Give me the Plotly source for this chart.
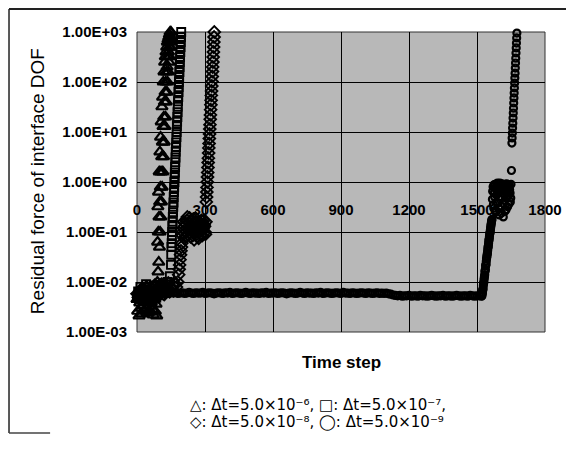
import plotly.graph_objects as go

# ---------------- data ----------------
# Δt = 5.0e-6  (triangles)
tri_x = [0, 3, 6, 9, 12, 15, 18, 21, 24, 27, 30, 33, 36, 39, 42, 45, 48, 51, 54, 57,
         60, 63, 66, 69, 72, 75, 78, 81, 84, 87,
         90, 91, 92, 93, 94, 95, 96, 97, 98, 99, 100, 101, 102, 103, 104, 105, 106, 107, 108, 109,
         110, 111, 112, 113, 114, 115, 116, 117, 118, 119, 120, 121, 122, 123, 124, 125, 126, 127, 128, 129,
         130, 131, 132, 133, 134, 135, 136, 137, 138, 139, 140, 141, 142, 143, 144, 145, 146, 147, 148, 149, 150]
tri_y = [4.5e-3, 2.6e-3, 5.5e-3, 2.1e-3, 3.8e-3, 6.2e-3, 3.0e-3, 2.3e-3, 4.8e-3, 3.4e-3,
         6.8e-3, 2.7e-3, 4.1e-3, 5.6e-3, 2.9e-3, 2.4e-3, 4.6e-3, 7.0e-3, 3.3e-3, 2.5e-3,
         5.0e-3, 3.9e-3, 6.0e-3, 2.8e-3, 2.2e-3, 4.4e-3, 5.4e-3, 2.6e-3, 3.6e-3, 2.1e-3,
         1.0e-2, 6.3e-2, 0.32, 1.6e-2, 0.10, 0.63, 2.5e-2, 0.20, 1.6, 5.0e-2,
         0.40, 4.0, 0.10, 0.79, 7.9, 0.20, 1.6, 16, 0.40, 3.2,
         32, 0.79, 6.3, 50, 1.6, 13, 100, 3.2, 20, 160,
         6.3, 40, 250, 13, 63, 320, 20, 100, 400, 40,
         160, 500, 63, 200, 630, 100, 320, 710, 160, 400,
         790, 250, 500, 890, 320, 630, 1000, 500, 790, 710, 1000]

# Δt = 5.0e-7  (squares)
sq_x = [0, 5, 10, 15, 20, 25, 30, 35, 40, 45, 50, 55, 60, 65, 70, 75, 80, 85, 90, 95,
        100, 105, 110, 115, 120, 125, 130, 135, 140, 145,
        150, 151, 152, 153, 154, 155, 156, 157, 158, 159, 160, 161, 162, 163, 164, 165, 166, 167, 168, 169,
        170, 171, 172, 173, 174, 175, 176, 177, 178, 179, 180, 181, 182, 183, 184, 185, 186, 187, 188, 189,
        190, 191, 192, 193, 194, 195]
sq_y = [5.0e-3, 6.5e-3, 4.6e-3, 8.0e-3, 5.5e-3, 4.2e-3, 7.2e-3, 5.8e-3, 9.0e-3, 4.8e-3,
        6.2e-3, 7.8e-3, 5.2e-3, 4.4e-3, 6.8e-3, 8.5e-3, 5.6e-3, 4.9e-3, 7.4e-3, 6.0e-3,
        8.8e-3, 5.4e-3, 6.6e-3, 9.5e-3, 7.0e-3, 6.0e-3, 8.2e-3, 1.0e-2, 7.6e-3, 1.3e-2,
        2.2e-2, 3.5e-2, 5.0e-2, 6.0e-2, 8.3e-2, 0.10, 0.13, 0.16, 0.20, 0.25,
        0.32, 0.39, 0.50, 0.63, 0.78, 1.0, 1.26, 1.55, 2.0, 2.5,
        3.1, 4.0, 5.0, 6.2, 7.9, 10, 13, 16, 20, 25,
        32, 41, 50, 63, 79, 100, 126, 158, 200, 251,
        316, 398, 501, 631, 794, 1000]

# Δt = 5.0e-8  (diamonds)
dia_x = [0, 6, 12, 18, 24, 30, 36, 42, 48, 54, 60, 66, 72, 78, 84, 90, 96, 102, 108, 114,
         120, 126, 132, 138, 144, 150, 156, 162, 168, 174, 180,
         184, 186, 188, 190, 192, 194, 196, 198,
         200, 202, 204, 206, 208, 210, 212, 214, 216, 218,
         220, 222, 224, 226, 228, 230, 232, 234, 236, 238,
         240, 242, 244, 246, 248, 250, 252, 254, 256, 258,
         260, 262, 264, 266, 268, 270, 272, 274, 276, 278,
         280, 282, 284, 286, 288, 290, 292, 294, 296, 298,
         300, 302, 304,
         306, 307, 308, 309, 310, 311, 312, 313, 314, 315, 316, 317, 318, 319, 320, 321, 322, 323,
         324, 325, 326, 327, 328, 329, 330, 331, 332, 333, 334, 335, 336, 337, 338, 339, 340, 341]
dia_y = [5.8e-3, 4.9e-3, 6.6e-3, 5.2e-3, 7.5e-3, 4.6e-3, 6.0e-3, 8.0e-3, 5.5e-3, 6.8e-3,
         4.8e-3, 7.2e-3, 5.9e-3, 8.6e-3, 6.3e-3, 5.1e-3, 7.8e-3, 6.1e-3, 9.0e-3, 6.9e-3,
         5.6e-3, 8.3e-3, 7.0e-3, 9.6e-3, 6.4e-3, 7.6e-3, 8.8e-3, 6.7e-3, 9.2e-3, 7.9e-3, 1.0e-2,
         1.4e-2, 1.8e-2, 2.2e-2, 2.8e-2, 3.5e-2, 4.2e-2, 5.0e-2, 6.0e-2,
         0.085, 0.10, 0.12, 0.16, 0.075, 0.13, 0.15, 0.08, 0.10, 0.14,
         0.17, 0.20, 0.09, 0.11, 0.13, 0.155, 0.19, 0.095, 0.08, 0.17,
         0.14, 0.13, 0.11, 0.085, 0.18, 0.15, 0.07, 0.105, 0.12, 0.19,
         0.16, 0.12, 0.09, 0.08, 0.13, 0.16, 0.075, 0.10, 0.15, 0.13,
         0.11, 0.09, 0.17, 0.14, 0.085, 0.11, 0.12, 0.17, 0.14, 0.13,
         0.10, 0.09, 0.16,
         0.40, 0.50, 0.63, 0.78, 1.0, 1.26, 1.55, 1.95, 2.45, 3.0, 3.8, 4.8, 5.9, 7.4, 9.1, 11.5,
         14, 18, 22, 28, 35, 43, 54, 66, 83, 102, 129, 162, 200, 251, 316, 398, 501, 631, 794, 1000]

# Δt = 5.0e-9  (circles)
cir_x = [0, 5, 10, 15, 20, 25, 30, 35, 40, 45, 50, 55, 60, 65, 70, 75, 80, 85, 90, 95,
         100, 110, 120, 130, 140, 150, 160, 170, 180, 190,
         200, 210, 220, 230, 240, 250, 260, 270, 280, 290,
         300, 310, 320, 330, 340, 350, 360, 370, 380, 390,
         400, 410, 420, 430, 440, 450, 460, 470, 480, 490,
         500, 510, 520, 530, 540, 550, 560, 570, 580, 590,
         600, 610, 620, 630, 640, 650, 660, 670, 680, 690,
         700, 710, 720, 730, 740, 750, 760, 770, 780, 790,
         800, 810, 820, 830, 840, 850, 860, 870, 880, 890,
         900, 910, 920, 930, 940, 950, 960, 970, 980, 990,
         1000, 1010, 1020, 1030, 1040, 1050, 1060, 1070, 1080, 1090,
         1100, 1110, 1120, 1130, 1140, 1150, 1160, 1170, 1180, 1190,
         1200, 1210, 1220, 1230, 1240, 1250, 1260, 1270, 1280, 1290,
         1300, 1310, 1320, 1330, 1340, 1350, 1360, 1370, 1380, 1390,
         1400, 1410, 1420, 1430, 1440, 1450, 1460, 1470, 1480, 1490,
         1500, 1510, 1520,
         1522, 1523, 1524, 1525, 1526, 1527, 1528, 1529, 1530, 1531, 1532, 1533, 1534, 1535, 1536,
         1537, 1538, 1539, 1540, 1541, 1542, 1543, 1544, 1545, 1546, 1547, 1548, 1549, 1550, 1551,
         1552, 1553, 1554, 1555, 1556, 1557, 1558, 1559, 1560, 1561, 1562, 1563, 1564, 1565, 1566,
         1568, 1569, 1571, 1572, 1574, 1575, 1577, 1578, 1580, 1581, 1583, 1584, 1586, 1587,
         1589, 1590, 1592, 1593, 1595, 1596, 1598, 1599, 1601, 1602, 1604, 1605, 1607, 1608,
         1610, 1611, 1613, 1614, 1616, 1617, 1619, 1620, 1622, 1623, 1625, 1626, 1628, 1629,
         1631, 1632, 1634, 1635, 1637, 1638, 1640, 1641, 1643, 1644, 1646, 1647, 1649, 1650,
         1652,
         1654, 1655, 1656, 1657, 1658, 1659, 1660, 1661, 1662, 1663, 1664, 1665, 1666, 1667,
         1668, 1669, 1670, 1671, 1672, 1673, 1674, 1675, 1676]
cir_y = [5.2e-3, 6.0e-3, 4.7e-3, 5.6e-3, 6.4e-3, 5.0e-3, 5.8e-3, 4.5e-3, 6.2e-3, 5.4e-3,
         6.6e-3, 4.9e-3, 5.7e-3, 6.3e-3, 5.1e-3, 6.0e-3, 5.5e-3, 6.5e-3, 5.3e-3, 6.1e-3,
         6.3e-3, 6.1e-3, 6.0e-3, 6.2e-3, 5.9e-3, 6.1e-3, 6.0e-3, 6.2e-3, 5.9e-3, 6.0e-3, 6.1e-3, 5.9e-3, 6.0e-3, 6.2e-3, 6.0e-3,
         5.9e-3, 6.1e-3, 6.0e-3, 6.0e-3, 6.2e-3, 5.9e-3, 6.0e-3, 6.1e-3, 6.0e-3, 5.8e-3, 6.0e-3, 6.1e-3, 6.0e-3, 5.9e-3, 6.1e-3,
         6.0e-3, 6.2e-3, 5.9e-3, 6.0e-3, 6.1e-3, 6.0e-3, 5.9e-3, 6.0e-3, 6.2e-3, 6.0e-3, 5.9e-3, 6.1e-3, 6.0e-3, 6.0e-3, 5.9e-3,
         6.1e-3, 6.0e-3, 6.2e-3, 5.9e-3, 6.0e-3, 6.0e-3, 6.1e-3, 5.9e-3, 6.0e-3, 6.1e-3, 6.0e-3, 5.8e-3, 6.0e-3, 6.1e-3, 6.0e-3,
         5.9e-3, 6.0e-3, 6.2e-3, 6.0e-3, 5.9e-3, 6.1e-3, 6.0e-3, 6.0e-3, 5.9e-3, 6.1e-3, 6.0e-3, 6.2e-3, 5.9e-3, 6.0e-3, 6.1e-3,
         6.0e-3, 5.9e-3, 6.0e-3, 6.1e-3, 6.0e-3, 5.9e-3, 6.2e-3, 6.0e-3, 6.0e-3, 5.9e-3, 6.1e-3, 6.0e-3, 5.9e-3, 6.0e-3, 6.1e-3,
         6.0e-3, 5.9e-3, 6.1e-3, 6.0e-3, 5.9e-3, 6.0e-3, 6.1e-3, 5.9e-3, 6.0e-3, 5.9e-3, 6.0e-3, 5.8e-3, 5.7e-3, 5.5e-3, 5.4e-3,
         5.3e-3, 5.4e-3, 5.2e-3, 5.3e-3, 5.3e-3, 5.4e-3, 5.2e-3, 5.3e-3, 5.3e-3, 5.2e-3, 5.4e-3, 5.3e-3, 5.3e-3, 5.2e-3, 5.3e-3,
         5.4e-3, 5.3e-3, 5.2e-3, 5.3e-3, 5.3e-3, 5.4e-3, 5.2e-3, 5.3e-3, 5.3e-3, 5.2e-3, 5.3e-3, 5.4e-3, 5.3e-3, 5.2e-3, 5.3e-3,
         5.3e-3, 5.2e-3, 5.4e-3, 5.3e-3, 5.2e-3, 5.3e-3, 5.3e-3, 5.2e-3,
         5.3e-3, 5.8e-3, 6.1e-3, 6.8e-3, 7.0e-3, 7.6e-3, 8.6e-3, 9.5e-3, 9.8e-3, 1.1e-2, 1.2e-2, 1.3e-2, 1.4e-2, 1.6e-2, 1.7e-2,
         1.8e-2, 2.1e-2, 2.2e-2, 2.3e-2, 2.6e-2, 2.9e-2, 3.1e-2, 3.3e-2, 3.6e-2, 3.8e-2, 4.2e-2, 4.7e-2, 5.0e-2, 5.3e-2, 5.9e-2,
         6.5e-2, 7.0e-2, 7.4e-2, 8.1e-2, 9.0e-2, 9.5e-2, 0.10, 0.11, 0.12, 0.13, 0.14, 0.15, 0.16, 0.17, 0.18,
         0.45, 0.65, 0.80, 0.35, 0.30, 0.88, 0.62, 0.50, 0.90, 0.27, 0.25, 0.72, 0.55, 0.40,
         0.85, 0.95, 0.38, 0.60, 0.70, 0.30, 0.22, 0.82, 0.95, 0.45, 0.50, 0.70, 0.33, 0.24,
         0.78, 0.92, 0.60, 0.38, 0.20, 0.58, 0.88, 0.80, 0.42, 0.26, 0.68, 0.90, 0.28, 0.48,
         0.92, 0.66, 0.52, 0.32, 0.75, 0.86, 0.36, 0.55, 0.85, 0.70, 0.60, 0.40, 0.48, 0.90,
         1.7,
         6.0, 7.6, 9.5, 12, 15, 19, 24, 30, 38, 48, 60, 76, 95, 120,
         150, 190, 240, 300, 380, 480, 600, 760, 950]

x_ticks = [0, 300, 600, 900, 1200, 1500, 1800]
y_ticks = [1e-3, 1e-2, 1e-1, 1e0, 1e1, 1e2, 1e3]
y_tick_labels = ["1.00E-03", "1.00E-02", "1.00E-01", "1.00E+00", "1.00E+01", "1.00E+02", "1.00E+03"]
legend_lines = ["△: Δt=5.0×10⁻⁶, □: Δt=5.0×10⁻⁷,",
                "◇: Δt=5.0×10⁻⁸, ◯: Δt=5.0×10⁻⁹"]

# ---------------- figure ----------------
FONT = "Liberation Sans, Arial, sans-serif"
fig = go.Figure()
series = [
    (tri_x, tri_y, "triangle-up-open", 10, 2.2),
    (sq_x, sq_y, "square-open", 8, 1.9),
    (dia_x, dia_y, "diamond-open", 9, 1.9),
    (cir_x, cir_y, "circle-open", 7, 2.2),
]
for xs, ys, sym, sz, lw in series:
    fig.add_trace(go.Scatter(
        x=xs, y=ys, mode="markers", cliponaxis=False, showlegend=False,
        marker=dict(symbol=sym, size=sz, color="black", line=dict(width=lw, color="black")),
    ))

# the page places the figure 8px in from the top-left corner
fig.update_layout(
    width=566, height=453,
    margin=dict(l=129, r=29, t=24, b=129, autoexpand=False),
    paper_bgcolor="white", plot_bgcolor="#b8b8b8",
    font=dict(family=FONT, color="black"),
)
fig.update_xaxes(
    range=[0, 1800], tickvals=x_ticks, ticktext=[str(v) for v in x_ticks],
    anchor="free", position=0.5, showline=False, zeroline=False, ticks="",
    showgrid=True, gridcolor="black", gridwidth=1, automargin=False,
    ticklabelstandoff=17, tickfont=dict(size=15, family=FONT, weight="bold"),
    layer="below traces",
)
fig.update_yaxes(
    type="log", range=[-3, 3], tickvals=y_ticks, ticktext=y_tick_labels,
    showline=False, zeroline=False, ticks="", automargin=False,
    showgrid=True, gridcolor="black", gridwidth=1,
    ticklabelstandoff=9, tickfont=dict(size=15, family=FONT, weight="bold"),
    layer="below traces",
)

shapes = [
    dict(type="rect", xref="paper", yref="paper", x0=0, x1=1, y0=0, y1=1,
         line=dict(color="#333333", width=1), layer="below"),
    dict(type="line", xref="paper", yref="paper", x0=-0.3137, x1=1.061, y0=1.0767, y1=1.0767,
         line=dict(color="#222222", width=2)),
    dict(type="line", xref="paper", yref="paper", x0=-0.3137, x1=-0.3137, y0=1.0767, y1=-0.337,
         line=dict(color="#222222", width=1.5)),
    dict(type="line", xref="paper", yref="paper", x0=-0.3137, x1=-0.213, y0=-0.337, y1=-0.337,
         line=dict(color="#444444", width=1.5)),
]
fig.update_layout(shapes=shapes)

annotations = [
    dict(text="Residual force of interface DOF", textangle=-90, xref="paper", yref="paper",
         x=-0.245, y=0.503, xanchor="center", yanchor="middle", showarrow=False,
         font=dict(size=19, family=FONT)),
    dict(text="Time step", xref="paper", yref="paper", x=0.5, y=-0.103,
         xanchor="center", yanchor="middle", showarrow=False,
         font=dict(size=17, family=FONT, weight="bold")),
    dict(text=legend_lines[0], xref="paper", yref="paper",
         x=0.125, y=-0.243, xanchor="left", yanchor="middle", showarrow=False, align="left",
         font=dict(size=15, family="DejaVu Sans")),
    dict(text=legend_lines[1], xref="paper", yref="paper",
         x=0.125, y=-0.30, xanchor="left", yanchor="middle", showarrow=False, align="left",
         font=dict(size=15, family="DejaVu Sans")),
]
fig.update_layout(annotations=annotations)

fig.write_html("out.html")
